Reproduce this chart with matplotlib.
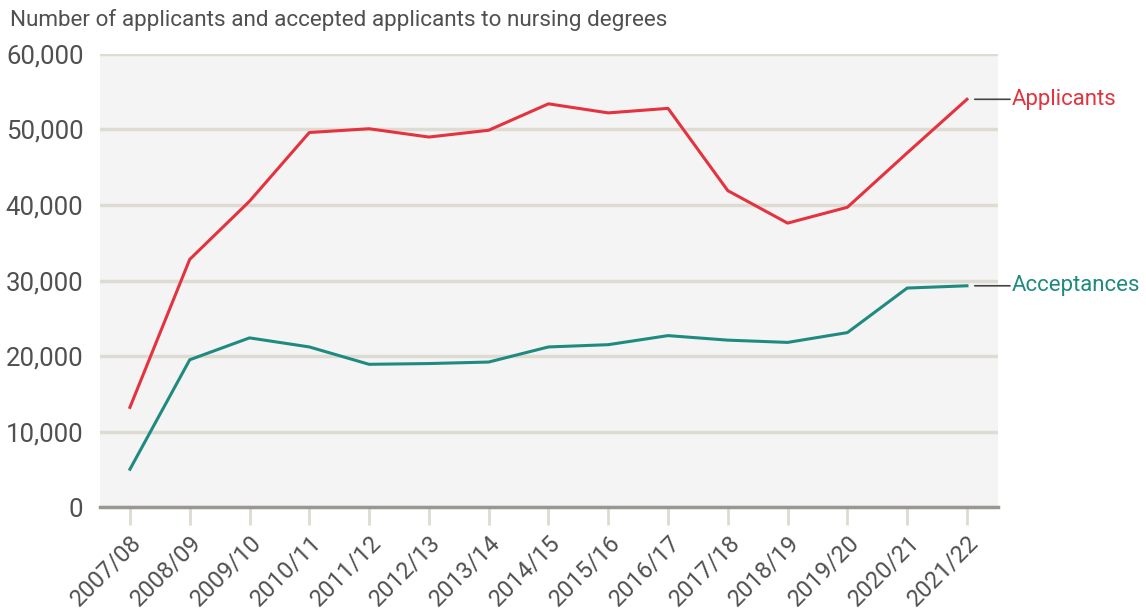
import matplotlib
matplotlib.use("Agg")
import matplotlib.pyplot as plt

years = ["2007/08", "2008/09", "2009/10", "2010/11", "2011/12", "2012/13", "2013/14",
         "2014/15", "2015/16", "2016/17", "2017/18", "2018/19", "2019/20", "2020/21", "2021/22"]
applicants = [13200, 32800, 40500, 49600, 50100, 49000, 49900, 53400, 52200, 52800,
              41900, 37600, 39700, 46900, 54000]
acceptances = [5000, 19500, 22400, 21200, 18900, 19000, 19200, 21200, 21500, 22700,
               22100, 21800, 23100, 29000, 29300]
yticks = [0, 10000, 20000, 30000, 40000, 50000, 60000]

RED = "#e5323f"
TEAL = "#1f8a80"
TXT = "#505050"
GRID = "#dedbd2"

plt.rcParams['font.family'] = ['Roboto', 'DejaVu Sans']

fig = plt.figure(figsize=(11.46, 6.15), dpi=100)
ax = fig.add_axes([0.0873, 0.1756, 0.7836, 0.7366])
ax.set_facecolor("#f4f4f4")

x = list(range(len(years)))
ax.plot(x, applicants, color=RED, lw=2.2, zorder=3)
ax.plot(x, acceptances, color=TEAL, lw=2.2, zorder=3)

ax.set_xlim(-0.5, 14.52)
ax.set_ylim(0, 60000)
ax.set_yticks(yticks)
ax.set_yticklabels([f"{v:,}" for v in yticks], fontsize=18.5, color=TXT)
ax.set_xticks(x)
ax.set_xticklabels(years, rotation=45, ha='right', va='top', rotation_mode='anchor',
                   fontsize=17, color=TXT)
ax.tick_params(axis='y', length=0, pad=12)
ax.tick_params(axis='x', length=13, width=2, color=GRID, pad=4)

ax.grid(axis='y', color=GRID, lw=2.5, zorder=1)
ax.set_axisbelow(True)
for s in ["top", "right", "left"]:
    ax.spines[s].set_visible(False)
ax.spines["bottom"].set_color("#999792")
ax.spines["bottom"].set_linewidth(2.5)
ax.spines["bottom"].set_zorder(2)

fig.text(10/1146, 1 - 20/615, "Number of applicants and accepted applicants to nursing degrees",
         fontsize=16.2, color=TXT, va='center', ha='left')

# end labels with leader lines
for series, label, col in [(applicants, "Applicants", RED), (acceptances, "Acceptances", TEAL)]:
    yv = series[-1]
    ax.annotate("", xy=(14.13, yv), xytext=(14.72, yv), xycoords='data', textcoords='data',
                arrowprops=dict(arrowstyle='-', color="#444444", lw=1.2, shrinkA=0, shrinkB=0),
                annotation_clip=False)
    ax.text(14.75, yv, label, color=col, fontsize=16, va='center', ha='left', clip_on=False)

fig.savefig("out.png", dpi=100)
